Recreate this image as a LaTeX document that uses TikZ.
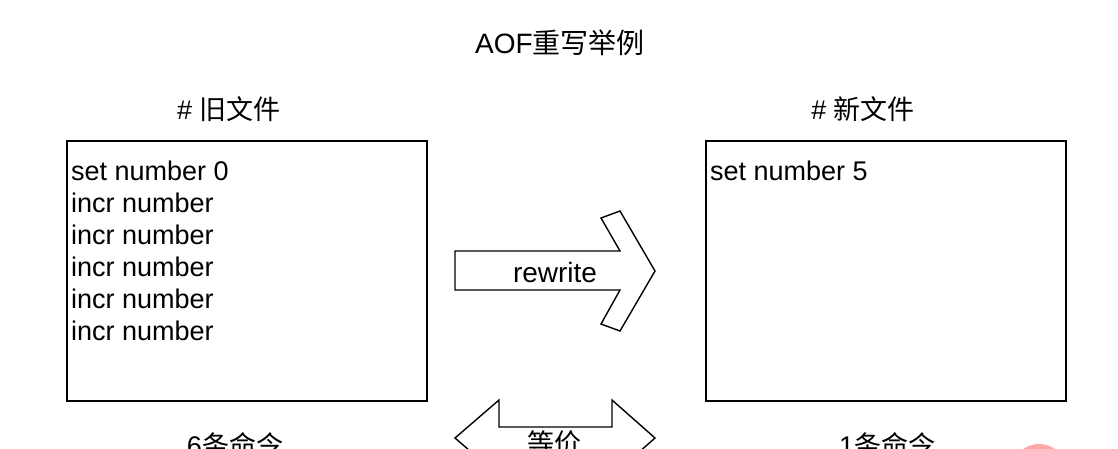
\documentclass[tikz,border=0pt]{standalone}
\usepackage{fontspec}
\setmainfont{Liberation Sans}
\newfontfamily\cjk{Noto Sans CJK SC}
\begin{document}
\begin{tikzpicture}[x=1pt,y=-1pt,
  box/.style={draw=black,line width=1.6pt,fill=white},
  blockarrow/.style={draw=black,line width=1.4pt,fill=white,line join=miter},
  txt/.style={inner sep=0pt,font=\fontsize{27}{30}\selectfont},
  codeline/.style={txt,anchor=base west}]
\useasboundingbox (0,0) rectangle (1118,448);
\begin{scope}
\clip (0,0) rectangle (1118,448);
% title
\node[txt,font=\fontsize{28}{30}\selectfont] (title) at (560,43) {AOF{\cjk 重写举例}};
% headings
\node[txt] (hOld) at (229,109) {\# {\cjk 旧文件}};
\node[txt] (hNew) at (863,109) {\# {\cjk 新文件}};
% boxes
\draw[box] (67,141) rectangle (427,401);
\node[inner sep=0pt] (oldbox) at (247,271) {};
\draw[box] (706,141) rectangle (1066,401);
\node[inner sep=0pt] (newbox) at (886,271) {};
% code lines
\node[codeline] (l1) at (71,180) {set number 0};
\node[codeline] (l2) at (71,212) {incr number};
\node[codeline] (l3) at (71,244) {incr number};
\node[codeline] (l4) at (71,276) {incr number};
\node[codeline] (l5) at (71,308) {incr number};
\node[codeline] (l6) at (71,340) {incr number};
\node[codeline] (r1) at (710,180) {set number 5};
% rewrite arrow
\draw[blockarrow] (455,251) -- (620,251) -- (601,218) -- (620,211) -- (655,271)
  -- (620,331) -- (601,324) -- (620,290) -- (455,290) -- cycle;
\node[txt,anchor=base,font=\fontsize{28}{30}\selectfont] (rw) at (555,282) {rewrite};
% double arrow (equivalent)
\draw[blockarrow] (455,438) -- (499,400) -- (499,427) -- (612,427) -- (612,400)
  -- (655,438) -- (612,476) -- (612,452) -- (499,452) -- (499,476) -- cycle;
\node[txt] (eq) at (554,443) {\cjk 等价};
% counts
\node[txt] (cOld) at (235,445) {6{\cjk 条命令}};
\node[txt] (cNew) at (887,445) {1{\cjk 条命令}};
% pink circle artefact
\fill[red!35!white] (1039,472) circle (28);
\end{scope}
\end{tikzpicture}
\end{document}
